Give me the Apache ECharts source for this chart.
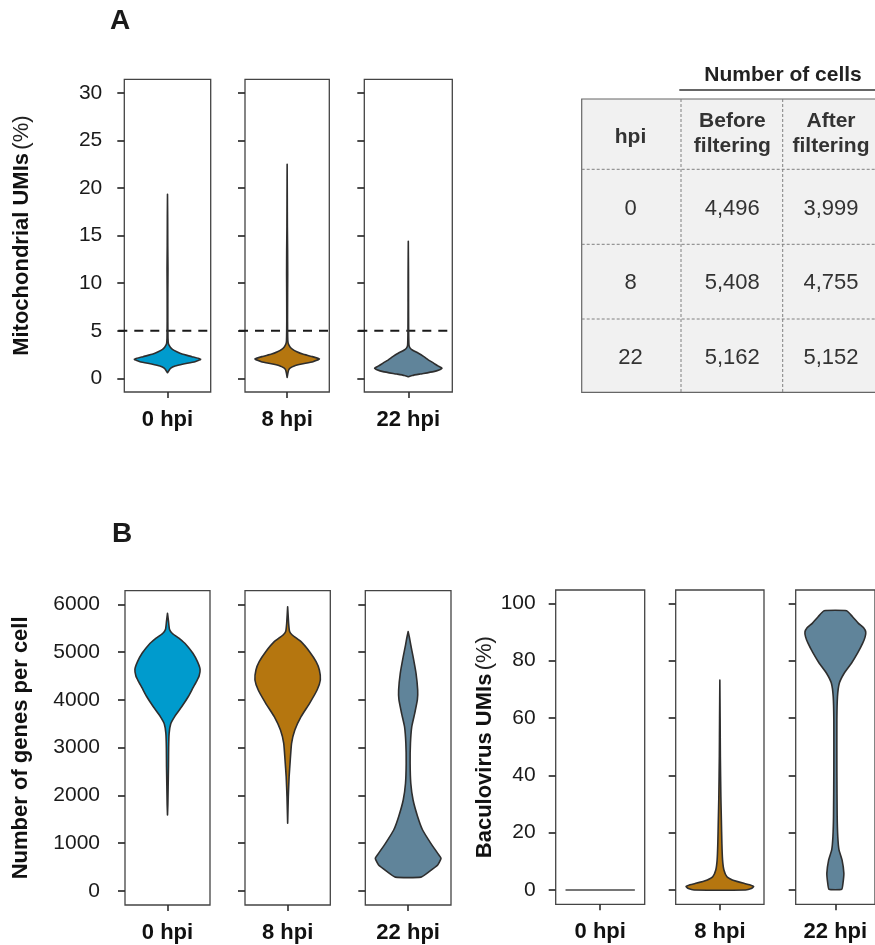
<!DOCTYPE html>
<html>
<head>
<meta charset="utf-8">
<script src="https://cdn.jsdelivr.net/npm/echarts@6/dist/echarts.min.js"></script>
<style>
  html, body { margin: 0; padding: 0; background: #ffffff; }
  #chart { width: 875px; height: 945px; }
</style>
</head>
<body>
<div id="chart"></div>
<script>
// Sampling times and their fill colours
const groups = ['0 hpi', '8 hpi', '22 hpi'];
const groupColors = ['#009BCD', '#B5760F', '#60849A'];

// Violin outlines: [value, relative half-width], listed from bottom to top
const mito0 = [[0.59,0],[0.8,0.04],[1.05,0.09],[1.29,0.23],[1.5,0.48],[1.75,0.83],[2.0,1.0],[2.27,0.74],[2.55,0.44],[2.8,0.28],[3.05,0.15],[3.3,0.08],[3.6,0.03],[4.2,0.015],[6,0.01],[9,0.01],[11.5,0.014],[14,0.008],[17,0.005],[19.35,0]];
const mito8 = [[0.1,0],[0.5,0.02],[0.9,0.05],[1.1,0.1],[1.3,0.22],[1.5,0.45],[1.75,0.8],[2.03,1.0],[2.3,0.76],[2.55,0.48],[2.8,0.3],[3.05,0.17],[3.3,0.09],[3.6,0.04],[4.0,0.02],[6,0.012],[9,0.014],[11,0.017],[13.5,0.014],[16,0.007],[19,0.004],[22.5,0]];
const mito22 = [[0.17,0],[0.3,0.12],[0.45,0.35],[0.7,0.75],[0.9,0.93],[1.05,1.0],[1.3,0.88],[1.6,0.75],[1.92,0.6],[2.3,0.45],[2.63,0.3],[2.98,0.12],[3.2,0.05],[3.5,0.02],[5,0.01],[8,0.007],[11,0.006],[14.4,0]];

const genes0 = [[1590,0],[1800,0.01],[2200,0.02],[2600,0.03],[3000,0.035],[3300,0.05],[3500,0.1],[3650,0.22],[3860,0.44],[4070,0.64],[4250,0.78],[4400,0.9],[4500,0.97],[4640,1.0],[4800,0.92],[4975,0.78],[5150,0.58],[5290,0.35],[5390,0.15],[5480,0.06],[5650,0.03],[5812,0]];
const genes8 = [[1417,0],[1975,0.02],[2393,0.045],[2742,0.08],[3091,0.12],[3370,0.22],[3649,0.41],[3928,0.67],[4207,0.9],[4416,1.0],[4626,0.97],[4800,0.87],[5009,0.67],[5218,0.41],[5358,0.14],[5430,0.06],[5600,0.03],[5950,0]];
const genes22 = [[290,0.39],[405,0.64],[544,0.9],[684,1.0],[788,0.9],[998,0.69],[1277,0.44],[1556,0.29],[1905,0.15],[2254,0.08],[2672,0.06],[3091,0.07],[3440,0.11],[3719,0.2],[3998,0.28],[4207,0.29],[4556,0.24],[4905,0.15],[5148,0.08],[5300,0.04],[5428,0]];

const bacu0 = [[0,1.0]];
const bacu8 = [[0,0.76],[0.5,0.93],[1.16,1.0],[1.8,0.88],[2.33,0.71],[3.0,0.5],[3.5,0.37],[4.65,0.21],[7,0.12],[10.5,0.08],[16.3,0.06],[24.4,0.045],[32.6,0.03],[46.5,0.015],[60,0.008],[73.2,0]];
const bacu22 = [[0.23,0.21],[2.3,0.25],[5.8,0.28],[10.5,0.22],[14,0.12],[18.6,0.08],[25.6,0.06],[41.9,0.05],[59.3,0.05],[67.4,0.07],[72.1,0.13],[75.6,0.29],[79.1,0.53],[82.6,0.73],[86.1,0.9],[88.3,0.98],[90.0,1.0],[91.5,0.93],[93.0,0.76],[95.4,0.56],[97.4,0.37]];

// Axis ticks and the mitochondrial cut-off
const mitoTicks = [0, 5, 10, 15, 20, 25, 30];
const genesTicks = [0, 1000, 2000, 3000, 4000, 5000, 6000];
const bacuTicks = [0, 20, 40, 60, 80, 100];
const mitoCutoff = 5;

// Cell counts table
const tableTitle = 'Number of cells';
const tableHeaders = ['hpi', 'Before\nfiltering', 'After\nfiltering'];
const tableHpi = ['0', '8', '22'];
const tableBefore = ['4,496', '5,408', '5,162'];
const tableAfter = ['3,999', '4,755', '5,152'];

const FONT = "'Liberation Sans', Arial, Helvetica, sans-serif";
const HALF = 0.46;          // half-width of a violin at its widest, in x-axis units
const STROKE = '#2e2e2e';

// Panel layouts: one grid per violin
const panels = [
  { violins: [mito0, mito8, mito22], ticks: mitoTicks, min: -1.44, max: 31.44, labelMargin: 22,
    title: '{b|Mitochondrial UMIs} {n|(%)}', nameGap: 91, cutoff: mitoCutoff,
    boxes: [[124.3, 79.3, 86.4, 312.7], [245, 79.3, 84.3, 312.7], [364.3, 79.3, 88, 312.7]] },
  { violins: [genes0, genes8, genes22], ticks: genesTicks, min: -293, max: 6285, labelMargin: 25,
    title: '{b|Number of genes per cell}', nameGap: 93,
    boxes: [[125, 590.7, 85, 314.3], [245, 590.7, 85.3, 314.3], [365.3, 590.7, 85.7, 314.3]] },
  { violins: [bacu0, bacu8, bacu22], ticks: bacuTicks, min: -4.99, max: 104.65, labelMargin: 20,
    title: '{b|Baculovirus UMIs} {n|(%)}', nameGap: 60,
    boxes: [[555.7, 590, 89, 314.3], [675.7, 590, 88.3, 314.3], [795.7, 590, 89, 314.3]] }
];

const grids = [], xAxes = [], yAxes = [], series = [];

panels.forEach((p) => {
  p.boxes.forEach((b, j) => {
    const gi = grids.length;
    grids.push({
      left: b[0], top: b[1], width: b[2], height: b[3],
      show: true, borderColor: '#444', borderWidth: 1.3, backgroundColor: 'transparent',
      containLabel: false
    });
    // category axis: group label and centre tick
    xAxes.push({
      gridIndex: gi, type: 'category', data: [groups[j]], position: 'bottom',
      boundaryGap: true,
      axisLine: { show: false, onZero: false },
      axisTick: { show: true, alignWithLabel: true, length: 6, lineStyle: { color: STROKE, width: 1.6 } },
      axisLabel: { show: true, margin: 17, fontFamily: FONT, fontSize: 22, fontWeight: 'bold', color: '#111' },
      splitLine: { show: false }
    });
    // value axis used to place the violin widths
    xAxes.push({
      gridIndex: gi, type: 'value', min: -0.6, max: 0.6, show: false,
      axisLine: { onZero: false }
    });
    yAxes.push({
      gridIndex: gi, type: 'value', min: p.min, max: p.max, position: 'left',
      axisLine: { show: false, onZero: false },
      splitLine: { show: false },
      axisTick: { show: true, length: 7, inside: false, customValues: p.ticks, lineStyle: { color: STROKE, width: 1.7 } },
      axisLabel: { show: j === 0, customValues: p.ticks, margin: p.labelMargin, fontFamily: FONT, fontSize: 21, color: '#1a1a1a',
        formatter: (v) => String(v) },
      name: j === 0 ? p.title : '',
      nameLocation: 'middle', nameRotate: 90, nameGap: p.nameGap,
      nameTextStyle: {
        fontFamily: FONT, color: '#111',
        rich: {
          b: { fontFamily: FONT, fontSize: 22, fontWeight: 'bold', color: '#111' },
          n: { fontFamily: FONT, fontSize: 22, fontWeight: 'normal', color: '#222' }
        }
      }
    });

    const profile = p.violins[j];
    const fill = groupColors[j];
    const xIdx = 2 * gi + 1;

    if (p.cutoff !== undefined) {
      series.push({
        type: 'custom', xAxisIndex: xIdx, yAxisIndex: gi, silent: true, clip: false, z: 1,
        data: [[0, p.cutoff]],
        renderItem: (params, api) => {
          const a = api.coord([-0.6, api.value(1)]);
          const c = api.coord([0.6, api.value(1)]);
          return {
            type: 'line',
            shape: { x1: a[0] - 6, y1: a[1], x2: c[0], y2: c[1] },
            style: { stroke: '#1a1a1a', lineWidth: 2, lineDash: [9, 7] }
          };
        }
      });
    }

    series.push({
      type: 'custom', xAxisIndex: xIdx, yAxisIndex: gi, silent: true, clip: false, z: 2,
      data: [[0, profile[0][0]]],
      renderItem: (params, api) => {
        const right = profile.map(([v, w]) => api.coord([w * HALF, v]));
        const left = profile.slice().reverse().map(([v, w]) => api.coord([-w * HALF, v]));
        return {
          type: 'polygon',
          shape: { points: right.concat(left), smooth: 0.15 },
          style: { fill: fill, stroke: profile.length === 1 ? '#4a4a4a' : STROKE, lineWidth: 1.6, lineJoin: 'round' }
        };
      }
    });
  });
});

// Table of cell counts, drawn as graphic elements
const tbl = { left: 581.7, top: 99, right: 884, bottom: 392.3,
  cols: [681, 782.7], rows: [169.3, 244.3, 319],
  colCenters: [630.5, 732.3, 831], headY: 134, rowY: [209, 283, 358] };

const graphic = [];
graphic.push({ type: 'text', x: 110, y: 21, style: { text: 'A', font: 'bold 28px ' + FONT, fill: '#1a1a1a', textAlign: 'left', textVerticalAlign: 'middle' } });
graphic.push({ type: 'text', x: 112, y: 534, style: { text: 'B', font: 'bold 28px ' + FONT, fill: '#1a1a1a', textAlign: 'left', textVerticalAlign: 'middle' } });

graphic.push({ type: 'text', x: 783, y: 75, style: { text: tableTitle, font: 'bold 21px ' + FONT, fill: '#222', textAlign: 'center', textVerticalAlign: 'middle' } });
graphic.push({ type: 'line', shape: { x1: 679.3, y1: 90, x2: 884, y2: 90 }, style: { stroke: '#333', lineWidth: 1.5 } });
graphic.push({ type: 'rect', shape: { x: tbl.left, y: tbl.top, width: tbl.right - tbl.left, height: tbl.bottom - tbl.top },
  style: { fill: '#F1F1F1', stroke: '#666', lineWidth: 1.2 } });
tbl.cols.forEach((cx) => graphic.push({ type: 'line', shape: { x1: cx, y1: tbl.top, x2: cx, y2: tbl.bottom },
  style: { stroke: '#808080', lineWidth: 1, lineDash: [3, 2] } }));
tbl.rows.forEach((ry) => graphic.push({ type: 'line', shape: { x1: tbl.left, y1: ry, x2: tbl.right, y2: ry },
  style: { stroke: '#808080', lineWidth: 1, lineDash: [3, 2] } }));
tableHeaders.forEach((h, k) => graphic.push({ type: 'text', x: tbl.colCenters[k], y: tbl.headY + (k === 0 ? 3 : 0),
  style: { text: h, font: 'bold 21px ' + FONT, fill: '#333', textAlign: 'center', textVerticalAlign: 'middle', lineHeight: 25 } }));
[tableHpi, tableBefore, tableAfter].forEach((col, k) => col.forEach((val, r) => graphic.push({
  type: 'text', x: tbl.colCenters[k], y: tbl.rowY[r],
  style: { text: val, font: '22px ' + FONT, fill: '#333', textAlign: 'center', textVerticalAlign: 'middle' } })));

const chart = echarts.init(document.getElementById('chart'), null, { renderer: 'canvas' });
chart.setOption({
  animation: false,
  backgroundColor: '#ffffff',
  grid: grids,
  xAxis: xAxes,
  yAxis: yAxes,
  series: series,
  graphic: graphic
});
</script>
</body>
</html>
